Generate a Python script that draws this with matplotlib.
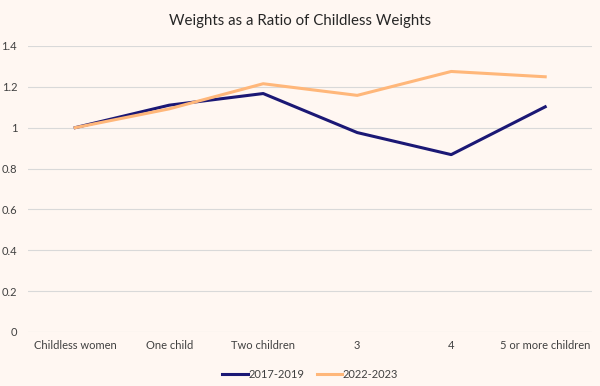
import matplotlib.pyplot as plt

plt.rcParams['font.family'] = ['Lato', 'DejaVu Sans']

categories = ['Childless women', 'One child', 'Two children', '3', '4', '5 or more children']
w_2017_2019 = [1.0, 1.11, 1.167, 0.976, 0.868, 1.102]
w_2022_2023 = [1.0, 1.092, 1.215, 1.158, 1.275, 1.249]
yticks = [0, 0.2, 0.4, 0.6, 0.8, 1, 1.2, 1.4]
ytick_labels = ['0', '0.2', '0.4', '0.6', '0.8', '1', '1.2', '1.4']

bg = '#FFF7F2'
fig = plt.figure(figsize=(6, 3.86), dpi=100, facecolor=bg)
ax = fig.add_axes([0.047, 0.14, 0.94, 0.741])
ax.set_facecolor(bg)

x = range(len(categories))
ax.plot(x, w_2017_2019, color='#1B1875', linewidth=2.2, label='2017-2019', zorder=3)
ax.plot(x, w_2022_2023, color='#FFB77A', linewidth=2.2, label='2022-2023', zorder=4)

ax.set_xlim(-0.5, len(categories) - 0.5)
ax.set_ylim(0, 1.4)
ax.set_yticks(yticks)
ax.set_yticklabels(ytick_labels)
ax.set_xticks(list(x))
ax.set_xticklabels(categories)
ax.grid(axis='y', color='#D9D9D9', linewidth=0.8)
ax.set_axisbelow(True)
for s in ax.spines.values():
    s.set_visible(False)
ax.tick_params(length=0, labelsize=8, colors='#404040', pad=6)
ax.tick_params(axis='y', pad=8)

fig.suptitle('Weights as a Ratio of Childless Weights', fontsize=10.8, color='#262626', y=0.965)
ax.legend(loc='upper center', bbox_to_anchor=(0.5, -0.095), ncol=2, frameon=False,
          fontsize=8, handlelength=2.3, handletextpad=0.05, columnspacing=1.1,
          labelcolor='#404040')

fig.savefig('out.png', dpi=100, facecolor=bg)
